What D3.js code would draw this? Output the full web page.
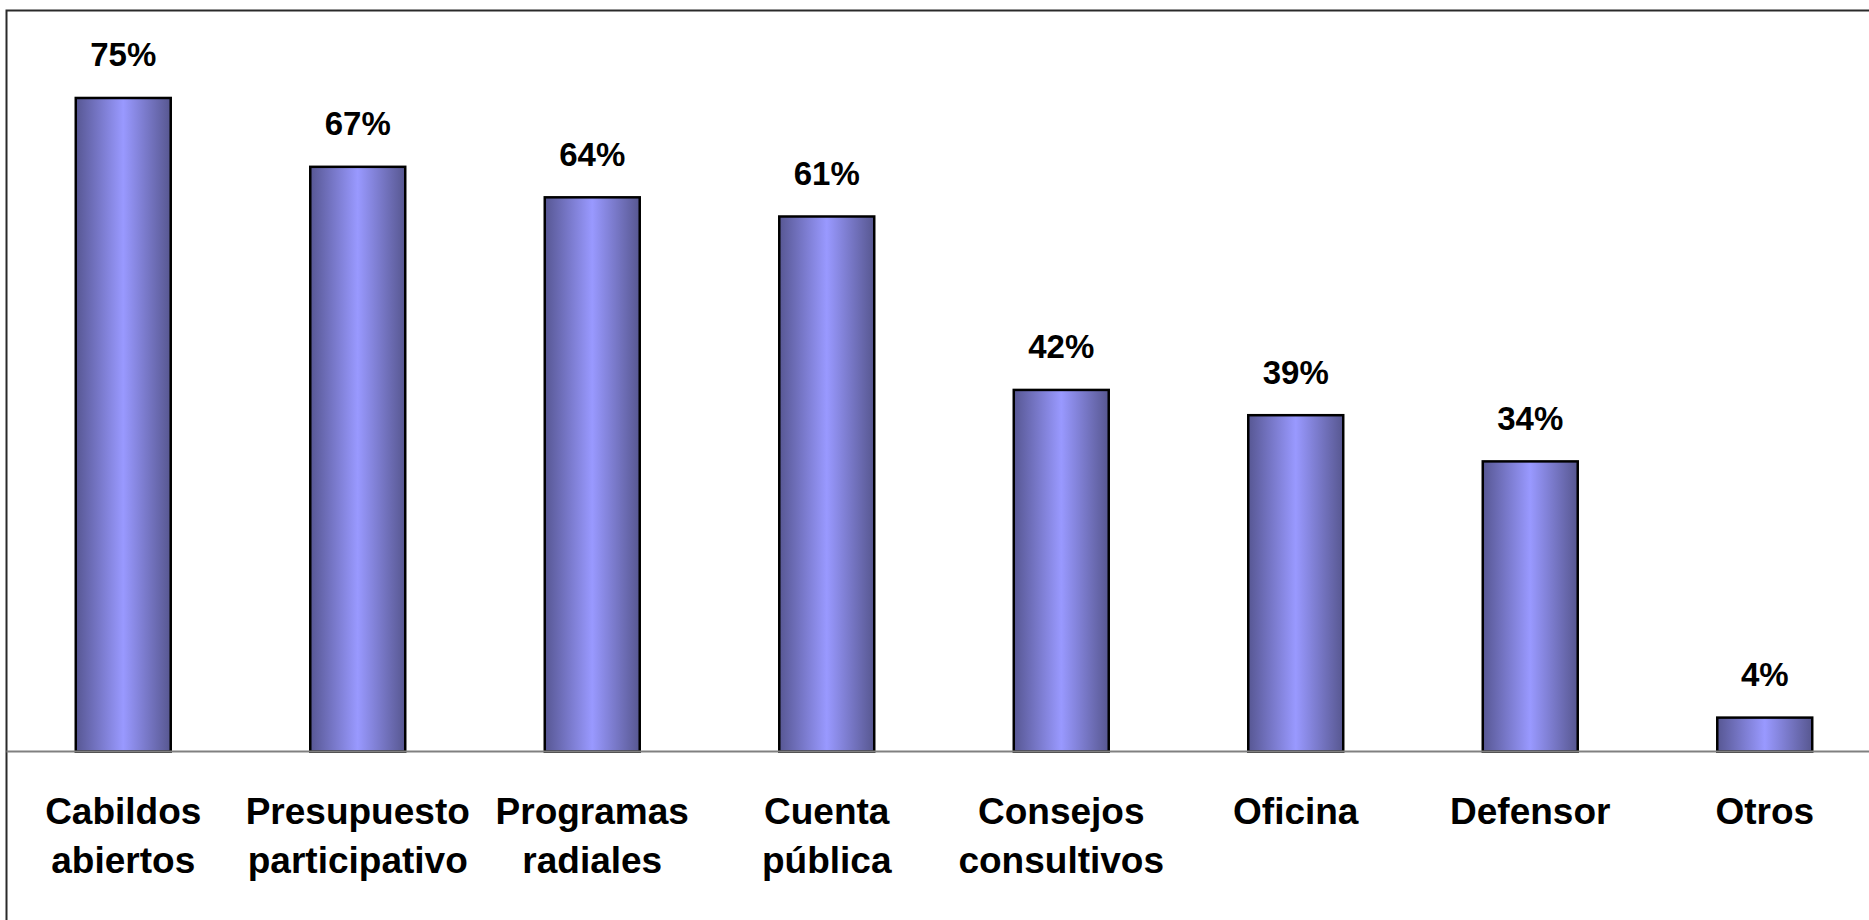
<!DOCTYPE html>
<html>
<head>
<meta charset="utf-8">
<script src="https://cdn.jsdelivr.net/npm/d3@7"></script>
<style>
  html, body { margin: 0; padding: 0; background: #fff; overflow: hidden; }
  svg { display: block; }
  text { font-family: "Liberation Sans", Arial, sans-serif; font-weight: bold; fill: #000; }
</style>
</head>
<body>
<svg id="chart" width="1869" height="920"></svg>
<script>
const categories = [
  ["Cabildos", "abiertos"],
  ["Presupuesto", "participativo"],
  ["Programas", "radiales"],
  ["Cuenta", "pública"],
  ["Consejos", "consultivos"],
  ["Oficina"],
  ["Defensor"],
  ["Otros"]
];
// bar heights (labels are rounded)
const values = [75.0, 67.1, 63.6, 61.4, 41.5, 38.6, 33.3, 3.9];
const labels = ["75%", "67%", "64%", "61%", "42%", "39%", "34%", "4%"];

const W = 1869, H = 920;
const svg = d3.select("#chart");

const defs = svg.append("defs");
const grad = defs.append("linearGradient").attr("id", "barGrad")
  .attr("x1", "0%").attr("x2", "100%").attr("y1", "0%").attr("y2", "0%");
grad.append("stop").attr("offset", "0%").attr("stop-color", "#575793");
grad.append("stop").attr("offset", "50%").attr("stop-color", "#9999ff");
grad.append("stop").attr("offset", "100%").attr("stop-color", "#575790");

const step = 234.5;
const x = d3.scaleBand()
  .domain(d3.range(categories.length))
  .range([6, 6 + step * categories.length])
  .paddingInner(0.595)
  .paddingOuter(0.2975);

const y = d3.scaleLinear().domain([0, 80]).range([751.6, 751.6 - 80 * 8.715]);

// frame (top and left visible)
svg.append("path")
  .attr("d", `M6.5,${H + 5} L6.5,10.5 L${W + 5},10.5`)
  .attr("fill", "none").attr("stroke", "#2a2a2a").attr("stroke-width", 2);

// bars
svg.append("g").selectAll("rect").data(values).join("rect")
  .attr("x", (d, i) => x(i))
  .attr("y", d => y(d))
  .attr("width", x.bandwidth())
  .attr("height", d => y(0) - y(d))
  .attr("fill", "url(#barGrad)")
  .attr("stroke", "#000")
  .attr("stroke-width", 2.5);

// axis line
const xAxis = d3.axisBottom(x).tickSize(0).tickFormat("");
const gx = svg.append("g").attr("transform", `translate(0,${y(0)})`).call(xAxis);
gx.select(".domain").attr("d", `M6.5,0H${W + 5}`).attr("stroke", "#808080").attr("stroke-width", 2);

// value labels
svg.append("g").selectAll("text").data(values).join("text")
  .attr("x", (d, i) => x(i) + x.bandwidth() / 2)
  .attr("y", d => y(d) - 31.5)
  .attr("text-anchor", "middle")
  .style("font-size", "33px")
  .text((d, i) => labels[i]);

// category labels
const cl = svg.append("g").selectAll("text").data(categories).join("text")
  .attr("x", (d, i) => x(i) + x.bandwidth() / 2)
  .attr("y", 823.5)
  .attr("text-anchor", "middle")
  .style("font-size", "37px");
cl.selectAll("tspan").data(d => d).join("tspan")
  .attr("x", function() { return d3.select(this.parentNode).attr("x"); })
  .attr("dy", (d, j) => j === 0 ? 0 : 49)
  .text(d => d);
</script>
</body>
</html>
